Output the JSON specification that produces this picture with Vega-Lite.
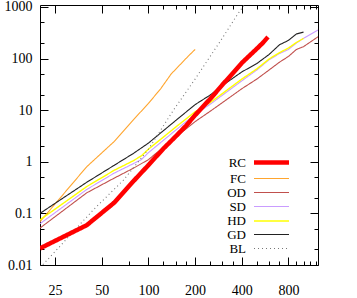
{
  "$schema": "https://vega.github.io/schema/vega-lite/v6.json",
  "width": 278,
  "height": 260,
  "autosize": "none",
  "padding": {"left": 40, "top": 5, "right": 39, "bottom": 33},
  "background": "white",
  "config": {
    "view": {"stroke": null},
    "font": "Liberation Serif",
    "axis": {
      "grid": false,
      "title": null,
      "domainColor": "#000000",
      "domainWidth": 1,
      "tickColor": "#000000",
      "tickWidth": 1,
      "labelColor": "#000000",
      "labelFont": "Liberation Serif",
      "labelFontSize": 14,
      "labelFlush": false,
      "labelOverlap": false
    },
    "legend": {
      "title": null,
      "labelAlign": "right",
      "labelOffset": -34,
      "labelFontSize": 13,
      "labelFont": "Liberation Serif",
      "labelColor": "#000000",
      "rowPadding": -1,
      "padding": 0,
      "symbolSize": 136,
      "symbolType": "M-3,0H3",
      "labelLimit": 0
    }
  },
  "data": {
    "values": [
      {"s": "FC", "x": 20, "y": 0.069}, {"s": "FC", "x": 40, "y": 0.8}, {"s": "FC", "x": 60, "y": 2.45}, {"s": "FC", "x": 80, "y": 6.5}, {"s": "FC", "x": 100, "y": 13.5}, {"s": "FC", "x": 120, "y": 26}, {"s": "FC", "x": 140, "y": 50}, {"s": "FC", "x": 160, "y": 76}, {"s": "FC", "x": 180, "y": 110}, {"s": "FC", "x": 200, "y": 150},
      {"s": "OD", "x": 20, "y": 0.052}, {"s": "OD", "x": 40, "y": 0.25}, {"s": "OD", "x": 60, "y": 0.48}, {"s": "OD", "x": 80, "y": 0.75}, {"s": "OD", "x": 100, "y": 1.1}, {"s": "OD", "x": 150, "y": 3.0}, {"s": "OD", "x": 200, "y": 6.0}, {"s": "OD", "x": 250, "y": 9.5}, {"s": "OD", "x": 300, "y": 14}, {"s": "OD", "x": 400, "y": 26}, {"s": "OD", "x": 500, "y": 40}, {"s": "OD", "x": 600, "y": 60}, {"s": "OD", "x": 700, "y": 85}, {"s": "OD", "x": 800, "y": 110}, {"s": "OD", "x": 900, "y": 150}, {"s": "OD", "x": 1000, "y": 170}, {"s": "OD", "x": 1240, "y": 264},
      {"s": "SD", "x": 20, "y": 0.063}, {"s": "SD", "x": 40, "y": 0.29}, {"s": "SD", "x": 60, "y": 0.6}, {"s": "SD", "x": 80, "y": 0.92}, {"s": "SD", "x": 90, "y": 1.1}, {"s": "SD", "x": 100, "y": 1.5}, {"s": "SD", "x": 150, "y": 4.1}, {"s": "SD", "x": 200, "y": 8.3}, {"s": "SD", "x": 250, "y": 13}, {"s": "SD", "x": 300, "y": 19.5}, {"s": "SD", "x": 400, "y": 37}, {"s": "SD", "x": 500, "y": 60}, {"s": "SD", "x": 600, "y": 95}, {"s": "SD", "x": 700, "y": 125}, {"s": "SD", "x": 800, "y": 150}, {"s": "SD", "x": 900, "y": 200}, {"s": "SD", "x": 1000, "y": 246}, {"s": "SD", "x": 1240, "y": 357},
      {"s": "HD", "x": 20, "y": 0.075}, {"s": "HD", "x": 40, "y": 0.33}, {"s": "HD", "x": 60, "y": 0.68}, {"s": "HD", "x": 80, "y": 1.05}, {"s": "HD", "x": 90, "y": 1.3}, {"s": "HD", "x": 100, "y": 1.75}, {"s": "HD", "x": 150, "y": 4.7}, {"s": "HD", "x": 200, "y": 9.3}, {"s": "HD", "x": 250, "y": 14}, {"s": "HD", "x": 300, "y": 21}, {"s": "HD", "x": 400, "y": 40}, {"s": "HD", "x": 500, "y": 63}, {"s": "HD", "x": 600, "y": 98}, {"s": "HD", "x": 700, "y": 130}, {"s": "HD", "x": 800, "y": 160}, {"s": "HD", "x": 900, "y": 205}, {"s": "HD", "x": 1000, "y": 246},
      {"s": "GD", "x": 20, "y": 0.1}, {"s": "GD", "x": 40, "y": 0.4}, {"s": "GD", "x": 60, "y": 0.85}, {"s": "GD", "x": 80, "y": 1.45}, {"s": "GD", "x": 100, "y": 2.3}, {"s": "GD", "x": 150, "y": 6.3}, {"s": "GD", "x": 200, "y": 12.8}, {"s": "GD", "x": 250, "y": 19.6}, {"s": "GD", "x": 300, "y": 30}, {"s": "GD", "x": 400, "y": 55}, {"s": "GD", "x": 500, "y": 80}, {"s": "GD", "x": 600, "y": 120}, {"s": "GD", "x": 700, "y": 185}, {"s": "GD", "x": 800, "y": 225}, {"s": "GD", "x": 900, "y": 300}, {"s": "GD", "x": 1000, "y": 325},
      {"s": "BL", "x": 20, "y": 0.009}, {"s": "BL", "x": 22, "y": 0.012}, {"s": "BL", "x": 30, "y": 0.033}, {"s": "BL", "x": 44, "y": 0.116}, {"s": "BL", "x": 69, "y": 0.44}, {"s": "BL", "x": 100, "y": 1.75}, {"s": "BL", "x": 145, "y": 10}, {"s": "BL", "x": 200, "y": 40}, {"s": "BL", "x": 300, "y": 250}, {"s": "BL", "x": 378, "y": 740}, {"s": "BL", "x": 420, "y": 1150},
      {"s": "RC", "x": 20, "y": 0.021}, {"s": "RC", "x": 40, "y": 0.059}, {"s": "RC", "x": 60, "y": 0.16}, {"s": "RC", "x": 80, "y": 0.42}, {"s": "RC", "x": 100, "y": 0.86}, {"s": "RC", "x": 125, "y": 1.8}, {"s": "RC", "x": 150, "y": 3.1}, {"s": "RC", "x": 175, "y": 5.0}, {"s": "RC", "x": 200, "y": 8.0}, {"s": "RC", "x": 250, "y": 16.5}, {"s": "RC", "x": 300, "y": 31}, {"s": "RC", "x": 350, "y": 52}, {"s": "RC", "x": 400, "y": 82}, {"s": "RC", "x": 450, "y": 115}, {"s": "RC", "x": 500, "y": 155}, {"s": "RC", "x": 550, "y": 205}, {"s": "RC", "x": 590, "y": 262}
    ]
  },
  "layer": [
    {
      "mark": {"type": "line", "clip": true},
      "encoding": {
        "x": {
          "field": "x", "type": "quantitative",
          "scale": {"type": "log", "domain": [20, 1240], "nice": false},
          "axis": {
            "orient": "bottom",
            "values": [25, 50, 75, 100, 125, 150, 175, 200, 250, 300, 350, 400, 500, 600, 700, 800, 900, 1000, 1100, 1200],
            "tickSize": {"condition": {"test": "indexof([25,50,100,200,400,800], datum.value) >= 0", "value": -8}, "value": -4},
            "labelExpr": "indexof([25,50,100,200,400,800], datum.value) >= 0 ? datum.value + '' : ''",
            "labelPadding": 26,
            "labelBaseline": "top"
          }
        },
        "y": {
          "field": "y", "type": "quantitative",
          "scale": {"type": "log", "domain": [0.01, 1090], "nice": false},
          "axis": {
            "orient": "left",
            "values": [0.01, 0.02, 0.05, 0.1, 0.2, 0.5, 1, 2, 5, 10, 20, 50, 100, 200, 500, 1000],
            "tickSize": {"condition": {"test": "abs(log(datum.value)/LN10 - round(log(datum.value)/LN10)) < 0.01", "value": -8}, "value": -4},
            "labelExpr": "abs(log(datum.value)/LN10 - round(log(datum.value)/LN10)) < 0.01 ? format(datum.value, '~g') : ''",
            "labelPadding": 16
          }
        },
        "color": {
          "field": "s", "type": "nominal",
          "scale": {"domain": ["RC", "FC", "OD", "SD", "HD", "GD", "BL"], "range": ["#ff0000", "#ffa52e", "#c0504d", "#c99cff", "#ffff00", "#222222", "#777777"]},
          "legend": {"orient": "none", "legendX": 223, "legendY": 149}
        },
        "strokeWidth": {
          "field": "s", "type": "nominal",
          "scale": {"type": "ordinal", "domain": ["RC", "FC", "OD", "SD", "HD", "GD", "BL"], "range": [4.5, 1.1, 1.1, 1.1, 1.4, 1.1, 1.1]},
          "legend": {"orient": "none", "legendX": 223, "legendY": 149}
        },
        "strokeDash": {
          "field": "s", "type": "nominal",
          "scale": {"domain": ["RC", "FC", "OD", "SD", "HD", "GD", "BL"], "range": [[1, 0], [1, 0], [1, 0], [1, 0], [1, 0], [1, 0], [1, 3]]},
          "legend": {"orient": "none", "legendX": 223, "legendY": 149}
        }
      }
    },
    {
      "mark": {"type": "point", "opacity": 0},
      "encoding": {
        "x": {
          "field": "x", "type": "quantitative",
          "axis": {
            "orient": "top",
            "values": [25, 50, 75, 100, 125, 150, 175, 200, 250, 300, 350, 400, 500, 600, 700, 800, 900, 1000, 1100, 1200],
            "tickSize": {"condition": {"test": "indexof([25,50,100,200,400,800], datum.value) >= 0", "value": -8}, "value": -4},
            "labels": false
          }
        },
        "y": {
          "field": "y", "type": "quantitative",
          "axis": {
            "orient": "right",
            "values": [0.01, 0.02, 0.05, 0.1, 0.2, 0.5, 1, 2, 5, 10, 20, 50, 100, 200, 500, 1000],
            "tickSize": {"condition": {"test": "abs(log(datum.value)/LN10 - round(log(datum.value)/LN10)) < 0.01", "value": -8}, "value": -4},
            "labels": false
          }
        }
      }
    }
  ],
  "resolve": {"axis": {"x": "independent", "y": "independent"}}
}
